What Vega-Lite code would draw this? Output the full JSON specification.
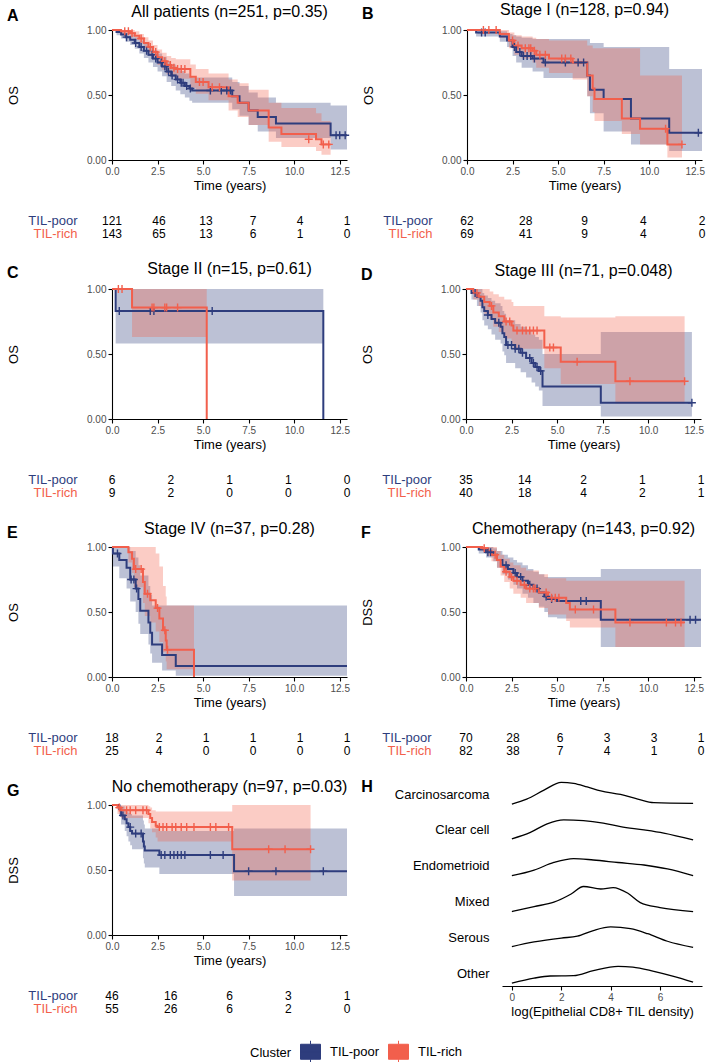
{
  "$schema": "https://vega.github.io/schema/vega-lite/v6.json",
  "padding": {"left": 7, "top": 2, "right": 2, "bottom": 0},
  "config": {
    "font": "Liberation Sans",
    "view": {"stroke": null},
    "axis": {"grid": false, "domainColor": "#000000", "tickColor": "#000000", "labelColor": "#4d4d4d", "labelFontSize": 10, "titleFontSize": 13, "titleFontWeight": "normal", "titleColor": "#000000", "tickSize": 4, "domainWidth": 1.1, "tickWidth": 1.1, "labelFlush": false, "labelOverlap": false},
    "title": {"fontSize": 16, "fontWeight": "normal", "color": "#000000", "offset": 5},
    "legend": {"symbolType": "M-1,-0.75H1V0.75H-1Z M-1,0H1 M0,-1.1V-0.75 M0,0.75V1.1", "symbolSize": 400, "symbolStrokeColor": "#333333", "symbolStrokeWidth": 1, "symbolOpacity": 1, "labelFontSize": 13, "titleFontSize": 13, "titleFontWeight": "normal", "labelColor": "#000000", "titleColor": "#000000"}
  },
  "datasets": {
    "km": [
      {"p":"A","g":"TIL-poor","t":0,"s":1,"lo":1,"hi":1},
      {"p":"A","g":"TIL-poor","t":0.25,"s":0.985,"lo":0.96,"hi":1},
      {"p":"A","g":"TIL-poor","t":0.5,"s":0.965,"lo":0.935,"hi":0.99},
      {"p":"A","g":"TIL-poor","t":0.75,"s":0.945,"lo":0.91,"hi":0.98},
      {"p":"A","g":"TIL-poor","t":1,"s":0.925,"lo":0.885,"hi":0.965},
      {"p":"A","g":"TIL-poor","t":1.25,"s":0.9,"lo":0.855,"hi":0.945},
      {"p":"A","g":"TIL-poor","t":1.5,"s":0.87,"lo":0.82,"hi":0.92},
      {"p":"A","g":"TIL-poor","t":1.75,"s":0.84,"lo":0.785,"hi":0.895},
      {"p":"A","g":"TIL-poor","t":2,"s":0.81,"lo":0.75,"hi":0.87},
      {"p":"A","g":"TIL-poor","t":2.25,"s":0.78,"lo":0.715,"hi":0.845},
      {"p":"A","g":"TIL-poor","t":2.5,"s":0.75,"lo":0.68,"hi":0.82},
      {"p":"A","g":"TIL-poor","t":2.75,"s":0.72,"lo":0.645,"hi":0.795},
      {"p":"A","g":"TIL-poor","t":3,"s":0.68,"lo":0.6,"hi":0.76},
      {"p":"A","g":"TIL-poor","t":3.25,"s":0.65,"lo":0.57,"hi":0.735},
      {"p":"A","g":"TIL-poor","t":3.5,"s":0.62,"lo":0.535,"hi":0.71},
      {"p":"A","g":"TIL-poor","t":3.75,"s":0.595,"lo":0.505,"hi":0.685},
      {"p":"A","g":"TIL-poor","t":4,"s":0.57,"lo":0.48,"hi":0.665},
      {"p":"A","g":"TIL-poor","t":4.25,"s":0.55,"lo":0.455,"hi":0.645},
      {"p":"A","g":"TIL-poor","t":4.4,"s":0.535,"lo":0.44,"hi":0.635},
      {"p":"A","g":"TIL-poor","t":6.6,"s":0.49,"lo":0.39,"hi":0.6},
      {"p":"A","g":"TIL-poor","t":7,"s":0.44,"lo":0.34,"hi":0.57},
      {"p":"A","g":"TIL-poor","t":7.5,"s":0.38,"lo":0.27,"hi":0.52},
      {"p":"A","g":"TIL-poor","t":8,"s":0.33,"lo":0.22,"hi":0.48},
      {"p":"A","g":"TIL-poor","t":9,"s":0.28,"lo":0.17,"hi":0.44},
      {"p":"A","g":"TIL-poor","t":12,"s":0.19,"lo":0.08,"hi":0.42},
      {"p":"A","g":"TIL-poor","t":12.9,"s":0.19,"lo":0.08,"hi":0.42},
      {"p":"A","g":"TIL-rich","t":0,"s":1,"lo":1,"hi":1},
      {"p":"A","g":"TIL-rich","t":0.5,"s":0.99,"lo":0.97,"hi":1},
      {"p":"A","g":"TIL-rich","t":1,"s":0.975,"lo":0.95,"hi":1},
      {"p":"A","g":"TIL-rich","t":1.25,"s":0.955,"lo":0.925,"hi":0.99},
      {"p":"A","g":"TIL-rich","t":1.5,"s":0.935,"lo":0.9,"hi":0.97},
      {"p":"A","g":"TIL-rich","t":1.75,"s":0.9,"lo":0.86,"hi":0.945},
      {"p":"A","g":"TIL-rich","t":2,"s":0.87,"lo":0.82,"hi":0.92},
      {"p":"A","g":"TIL-rich","t":2.25,"s":0.83,"lo":0.775,"hi":0.885},
      {"p":"A","g":"TIL-rich","t":2.5,"s":0.79,"lo":0.73,"hi":0.85},
      {"p":"A","g":"TIL-rich","t":2.75,"s":0.76,"lo":0.695,"hi":0.825},
      {"p":"A","g":"TIL-rich","t":3,"s":0.73,"lo":0.66,"hi":0.8},
      {"p":"A","g":"TIL-rich","t":3.25,"s":0.71,"lo":0.64,"hi":0.785},
      {"p":"A","g":"TIL-rich","t":3.5,"s":0.7,"lo":0.625,"hi":0.775},
      {"p":"A","g":"TIL-rich","t":4.3,"s":0.64,"lo":0.555,"hi":0.735},
      {"p":"A","g":"TIL-rich","t":4.6,"s":0.6,"lo":0.51,"hi":0.7},
      {"p":"A","g":"TIL-rich","t":5.3,"s":0.56,"lo":0.46,"hi":0.665},
      {"p":"A","g":"TIL-rich","t":6.4,"s":0.49,"lo":0.38,"hi":0.62},
      {"p":"A","g":"TIL-rich","t":6.9,"s":0.44,"lo":0.33,"hi":0.59},
      {"p":"A","g":"TIL-rich","t":7.5,"s":0.38,"lo":0.27,"hi":0.54},
      {"p":"A","g":"TIL-rich","t":8.6,"s":0.25,"lo":0.14,"hi":0.44},
      {"p":"A","g":"TIL-rich","t":9.3,"s":0.2,"lo":0.1,"hi":0.4},
      {"p":"A","g":"TIL-rich","t":11.2,"s":0.16,"lo":0.07,"hi":0.36},
      {"p":"A","g":"TIL-rich","t":11.5,"s":0.12,"lo":0.04,"hi":0.3},
      {"p":"A","g":"TIL-rich","t":12,"s":0.12,"lo":0.04,"hi":0.3},
      {"p":"B","g":"TIL-poor","t":0,"s":1,"lo":1,"hi":1},
      {"p":"B","g":"TIL-poor","t":0.5,"s":0.98,"lo":0.95,"hi":1},
      {"p":"B","g":"TIL-poor","t":1.8,"s":0.95,"lo":0.91,"hi":0.99},
      {"p":"B","g":"TIL-poor","t":2.2,"s":0.92,"lo":0.87,"hi":0.97},
      {"p":"B","g":"TIL-poor","t":2.5,"s":0.87,"lo":0.8,"hi":0.96},
      {"p":"B","g":"TIL-poor","t":2.7,"s":0.83,"lo":0.75,"hi":0.95},
      {"p":"B","g":"TIL-poor","t":3,"s":0.8,"lo":0.71,"hi":0.94},
      {"p":"B","g":"TIL-poor","t":3.6,"s":0.78,"lo":0.68,"hi":0.93},
      {"p":"B","g":"TIL-poor","t":4.2,"s":0.75,"lo":0.63,"hi":0.93},
      {"p":"B","g":"TIL-poor","t":6.6,"s":0.65,"lo":0.49,"hi":0.93},
      {"p":"B","g":"TIL-poor","t":6.75,"s":0.54,"lo":0.36,"hi":0.9},
      {"p":"B","g":"TIL-poor","t":7.5,"s":0.47,"lo":0.22,"hi":0.87},
      {"p":"B","g":"TIL-poor","t":9,"s":0.32,"lo":0.12,"hi":0.87},
      {"p":"B","g":"TIL-poor","t":11.1,"s":0.21,"lo":0.07,"hi":0.7},
      {"p":"B","g":"TIL-poor","t":12.9,"s":0.21,"lo":0.07,"hi":0.7},
      {"p":"B","g":"TIL-rich","t":0,"s":1,"lo":1,"hi":1},
      {"p":"B","g":"TIL-rich","t":1.8,"s":0.97,"lo":0.94,"hi":1},
      {"p":"B","g":"TIL-rich","t":2.3,"s":0.92,"lo":0.86,"hi":0.98},
      {"p":"B","g":"TIL-rich","t":2.6,"s":0.88,"lo":0.81,"hi":0.96},
      {"p":"B","g":"TIL-rich","t":3,"s":0.86,"lo":0.78,"hi":0.95},
      {"p":"B","g":"TIL-rich","t":3.6,"s":0.84,"lo":0.75,"hi":0.94},
      {"p":"B","g":"TIL-rich","t":3.8,"s":0.81,"lo":0.71,"hi":0.93},
      {"p":"B","g":"TIL-rich","t":4.5,"s":0.78,"lo":0.67,"hi":0.92},
      {"p":"B","g":"TIL-rich","t":5.8,"s":0.75,"lo":0.62,"hi":0.92},
      {"p":"B","g":"TIL-rich","t":6.6,"s":0.65,"lo":0.49,"hi":0.88},
      {"p":"B","g":"TIL-rich","t":6.9,"s":0.55,"lo":0.37,"hi":0.86},
      {"p":"B","g":"TIL-rich","t":7,"s":0.47,"lo":0.3,"hi":0.86},
      {"p":"B","g":"TIL-rich","t":8.5,"s":0.32,"lo":0.2,"hi":0.86},
      {"p":"B","g":"TIL-rich","t":9.5,"s":0.24,"lo":0.12,"hi":0.65},
      {"p":"B","g":"TIL-rich","t":11,"s":0.12,"lo":0.02,"hi":0.65},
      {"p":"B","g":"TIL-rich","t":11.8,"s":0.12,"lo":0.02,"hi":0.65},
      {"p":"C","g":"TIL-poor","t":0,"s":1,"lo":1,"hi":1},
      {"p":"C","g":"TIL-poor","t":0.2,"s":0.83,"lo":0.58,"hi":1},
      {"p":"C","g":"TIL-poor","t":11.6,"s":0,"lo":0,"hi":0},
      {"p":"C","g":"TIL-rich","t":0,"s":1,"lo":1,"hi":1},
      {"p":"C","g":"TIL-rich","t":1.1,"s":0.857,"lo":0.63,"hi":1},
      {"p":"C","g":"TIL-rich","t":5.2,"s":0,"lo":0,"hi":0},
      {"p":"D","g":"TIL-poor","t":0,"s":1,"lo":1,"hi":1},
      {"p":"D","g":"TIL-poor","t":0.3,"s":0.97,"lo":0.92,"hi":1},
      {"p":"D","g":"TIL-poor","t":0.6,"s":0.94,"lo":0.87,"hi":1},
      {"p":"D","g":"TIL-poor","t":0.8,"s":0.91,"lo":0.82,"hi":1},
      {"p":"D","g":"TIL-poor","t":0.9,"s":0.86,"lo":0.76,"hi":0.97},
      {"p":"D","g":"TIL-poor","t":1,"s":0.83,"lo":0.72,"hi":0.95},
      {"p":"D","g":"TIL-poor","t":1.2,"s":0.8,"lo":0.69,"hi":0.93},
      {"p":"D","g":"TIL-poor","t":1.4,"s":0.77,"lo":0.65,"hi":0.91},
      {"p":"D","g":"TIL-poor","t":1.6,"s":0.74,"lo":0.61,"hi":0.89},
      {"p":"D","g":"TIL-poor","t":1.9,"s":0.71,"lo":0.58,"hi":0.87},
      {"p":"D","g":"TIL-poor","t":2,"s":0.66,"lo":0.52,"hi":0.83},
      {"p":"D","g":"TIL-poor","t":2.1,"s":0.63,"lo":0.49,"hi":0.81},
      {"p":"D","g":"TIL-poor","t":2.2,"s":0.57,"lo":0.43,"hi":0.76},
      {"p":"D","g":"TIL-poor","t":2.7,"s":0.54,"lo":0.39,"hi":0.73},
      {"p":"D","g":"TIL-poor","t":3,"s":0.51,"lo":0.36,"hi":0.71},
      {"p":"D","g":"TIL-poor","t":3.3,"s":0.47,"lo":0.32,"hi":0.68},
      {"p":"D","g":"TIL-poor","t":3.6,"s":0.43,"lo":0.28,"hi":0.65},
      {"p":"D","g":"TIL-poor","t":3.8,"s":0.4,"lo":0.25,"hi":0.63},
      {"p":"D","g":"TIL-poor","t":4,"s":0.37,"lo":0.22,"hi":0.61},
      {"p":"D","g":"TIL-poor","t":4.2,"s":0.25,"lo":0.1,"hi":0.5},
      {"p":"D","g":"TIL-poor","t":7.4,"s":0.125,"lo":0.02,"hi":0.67},
      {"p":"D","g":"TIL-poor","t":12.4,"s":0.125,"lo":0.02,"hi":0.67},
      {"p":"D","g":"TIL-rich","t":0,"s":1,"lo":1,"hi":1},
      {"p":"D","g":"TIL-rich","t":0.4,"s":0.97,"lo":0.92,"hi":1},
      {"p":"D","g":"TIL-rich","t":0.7,"s":0.94,"lo":0.87,"hi":1},
      {"p":"D","g":"TIL-rich","t":1,"s":0.9,"lo":0.81,"hi":1},
      {"p":"D","g":"TIL-rich","t":1.3,"s":0.87,"lo":0.77,"hi":0.98},
      {"p":"D","g":"TIL-rich","t":1.5,"s":0.82,"lo":0.71,"hi":0.96},
      {"p":"D","g":"TIL-rich","t":1.8,"s":0.79,"lo":0.67,"hi":0.94},
      {"p":"D","g":"TIL-rich","t":2.1,"s":0.75,"lo":0.62,"hi":0.92},
      {"p":"D","g":"TIL-rich","t":2.5,"s":0.72,"lo":0.58,"hi":0.9},
      {"p":"D","g":"TIL-rich","t":2.6,"s":0.68,"lo":0.54,"hi":0.87},
      {"p":"D","g":"TIL-rich","t":4.3,"s":0.55,"lo":0.39,"hi":0.79},
      {"p":"D","g":"TIL-rich","t":5.2,"s":0.44,"lo":0.27,"hi":0.78},
      {"p":"D","g":"TIL-rich","t":8.2,"s":0.29,"lo":0.12,"hi":0.79},
      {"p":"D","g":"TIL-rich","t":12,"s":0.29,"lo":0.12,"hi":0.79},
      {"p":"E","g":"TIL-poor","t":0,"s":1,"lo":1,"hi":1},
      {"p":"E","g":"TIL-poor","t":0.05,"s":0.95,"lo":0.85,"hi":1},
      {"p":"E","g":"TIL-poor","t":0.4,"s":0.9,"lo":0.76,"hi":1},
      {"p":"E","g":"TIL-poor","t":0.8,"s":0.84,"lo":0.68,"hi":1},
      {"p":"E","g":"TIL-poor","t":1,"s":0.75,"lo":0.58,"hi":0.97},
      {"p":"E","g":"TIL-poor","t":1.3,"s":0.68,"lo":0.5,"hi":0.92},
      {"p":"E","g":"TIL-poor","t":1.45,"s":0.6,"lo":0.41,"hi":0.86},
      {"p":"E","g":"TIL-poor","t":1.55,"s":0.51,"lo":0.33,"hi":0.78},
      {"p":"E","g":"TIL-poor","t":2,"s":0.42,"lo":0.25,"hi":0.7},
      {"p":"E","g":"TIL-poor","t":2.1,"s":0.34,"lo":0.18,"hi":0.63},
      {"p":"E","g":"TIL-poor","t":2.2,"s":0.25,"lo":0.11,"hi":0.55},
      {"p":"E","g":"TIL-poor","t":2.75,"s":0.17,"lo":0.05,"hi":0.55},
      {"p":"E","g":"TIL-poor","t":3.5,"s":0.085,"lo":0.01,"hi":0.55},
      {"p":"E","g":"TIL-poor","t":12.9,"s":0.085,"lo":0.01,"hi":0.55},
      {"p":"E","g":"TIL-rich","t":0,"s":1,"lo":1,"hi":1},
      {"p":"E","g":"TIL-rich","t":0.9,"s":0.96,"lo":0.88,"hi":1},
      {"p":"E","g":"TIL-rich","t":1.1,"s":0.91,"lo":0.8,"hi":1},
      {"p":"E","g":"TIL-rich","t":1.2,"s":0.83,"lo":0.69,"hi":1},
      {"p":"E","g":"TIL-rich","t":1.7,"s":0.73,"lo":0.57,"hi":1},
      {"p":"E","g":"TIL-rich","t":1.8,"s":0.64,"lo":0.47,"hi":1},
      {"p":"E","g":"TIL-rich","t":2.1,"s":0.59,"lo":0.42,"hi":1},
      {"p":"E","g":"TIL-rich","t":2.4,"s":0.53,"lo":0.35,"hi":0.95},
      {"p":"E","g":"TIL-rich","t":2.6,"s":0.45,"lo":0.27,"hi":0.85},
      {"p":"E","g":"TIL-rich","t":2.8,"s":0.36,"lo":0.19,"hi":0.7},
      {"p":"E","g":"TIL-rich","t":2.95,"s":0.28,"lo":0.12,"hi":0.62},
      {"p":"E","g":"TIL-rich","t":3,"s":0.21,"lo":0.06,"hi":0.55},
      {"p":"E","g":"TIL-rich","t":4.5,"s":0,"lo":0,"hi":0},
      {"p":"F","g":"TIL-poor","t":0,"s":1,"lo":1,"hi":1},
      {"p":"F","g":"TIL-poor","t":0.7,"s":0.98,"lo":0.95,"hi":1},
      {"p":"F","g":"TIL-poor","t":1.1,"s":0.96,"lo":0.92,"hi":1},
      {"p":"F","g":"TIL-poor","t":1.5,"s":0.94,"lo":0.89,"hi":0.99},
      {"p":"F","g":"TIL-poor","t":1.7,"s":0.9,"lo":0.84,"hi":0.97},
      {"p":"F","g":"TIL-poor","t":2,"s":0.86,"lo":0.79,"hi":0.94},
      {"p":"F","g":"TIL-poor","t":2.3,"s":0.83,"lo":0.75,"hi":0.92},
      {"p":"F","g":"TIL-poor","t":2.6,"s":0.8,"lo":0.71,"hi":0.9},
      {"p":"F","g":"TIL-poor","t":2.8,"s":0.77,"lo":0.68,"hi":0.88},
      {"p":"F","g":"TIL-poor","t":3.1,"s":0.74,"lo":0.64,"hi":0.86},
      {"p":"F","g":"TIL-poor","t":3.4,"s":0.71,"lo":0.61,"hi":0.83},
      {"p":"F","g":"TIL-poor","t":3.7,"s":0.68,"lo":0.57,"hi":0.81},
      {"p":"F","g":"TIL-poor","t":4,"s":0.65,"lo":0.54,"hi":0.79},
      {"p":"F","g":"TIL-poor","t":4.3,"s":0.62,"lo":0.5,"hi":0.77},
      {"p":"F","g":"TIL-poor","t":4.5,"s":0.6,"lo":0.46,"hi":0.77},
      {"p":"F","g":"TIL-poor","t":5,"s":0.585,"lo":0.45,"hi":0.77},
      {"p":"F","g":"TIL-poor","t":7.4,"s":0.44,"lo":0.23,"hi":0.83},
      {"p":"F","g":"TIL-poor","t":12.9,"s":0.44,"lo":0.23,"hi":0.83},
      {"p":"F","g":"TIL-rich","t":0,"s":1,"lo":1,"hi":1},
      {"p":"F","g":"TIL-rich","t":0.9,"s":0.99,"lo":0.97,"hi":1},
      {"p":"F","g":"TIL-rich","t":1.2,"s":0.97,"lo":0.93,"hi":1},
      {"p":"F","g":"TIL-rich","t":1.4,"s":0.94,"lo":0.89,"hi":1},
      {"p":"F","g":"TIL-rich","t":1.7,"s":0.9,"lo":0.84,"hi":0.97},
      {"p":"F","g":"TIL-rich","t":1.9,"s":0.85,"lo":0.78,"hi":0.94},
      {"p":"F","g":"TIL-rich","t":2.1,"s":0.81,"lo":0.73,"hi":0.91},
      {"p":"F","g":"TIL-rich","t":2.4,"s":0.77,"lo":0.68,"hi":0.88},
      {"p":"F","g":"TIL-rich","t":2.6,"s":0.74,"lo":0.64,"hi":0.86},
      {"p":"F","g":"TIL-rich","t":3,"s":0.71,"lo":0.61,"hi":0.84},
      {"p":"F","g":"TIL-rich","t":3.3,"s":0.68,"lo":0.57,"hi":0.82},
      {"p":"F","g":"TIL-rich","t":4,"s":0.65,"lo":0.53,"hi":0.79},
      {"p":"F","g":"TIL-rich","t":4.5,"s":0.61,"lo":0.48,"hi":0.76},
      {"p":"F","g":"TIL-rich","t":5.5,"s":0.57,"lo":0.43,"hi":0.74},
      {"p":"F","g":"TIL-rich","t":5.7,"s":0.52,"lo":0.38,"hi":0.74},
      {"p":"F","g":"TIL-rich","t":8.2,"s":0.42,"lo":0.23,"hi":0.74},
      {"p":"F","g":"TIL-rich","t":12,"s":0.42,"lo":0.23,"hi":0.74},
      {"p":"G","g":"TIL-poor","t":0,"s":1,"lo":1,"hi":1},
      {"p":"G","g":"TIL-poor","t":0.4,"s":0.97,"lo":0.91,"hi":1},
      {"p":"G","g":"TIL-poor","t":0.5,"s":0.92,"lo":0.85,"hi":0.99},
      {"p":"G","g":"TIL-poor","t":0.7,"s":0.89,"lo":0.8,"hi":0.97},
      {"p":"G","g":"TIL-poor","t":0.8,"s":0.86,"lo":0.76,"hi":0.95},
      {"p":"G","g":"TIL-poor","t":0.9,"s":0.83,"lo":0.72,"hi":0.94},
      {"p":"G","g":"TIL-poor","t":1,"s":0.8,"lo":0.69,"hi":0.93},
      {"p":"G","g":"TIL-poor","t":1.1,"s":0.78,"lo":0.66,"hi":0.92},
      {"p":"G","g":"TIL-poor","t":1.7,"s":0.72,"lo":0.59,"hi":0.88},
      {"p":"G","g":"TIL-poor","t":1.75,"s":0.68,"lo":0.55,"hi":0.85},
      {"p":"G","g":"TIL-poor","t":1.8,"s":0.65,"lo":0.52,"hi":0.82},
      {"p":"G","g":"TIL-poor","t":2.6,"s":0.615,"lo":0.47,"hi":0.8},
      {"p":"G","g":"TIL-poor","t":6.7,"s":0.49,"lo":0.3,"hi":0.82},
      {"p":"G","g":"TIL-poor","t":12.9,"s":0.49,"lo":0.3,"hi":0.82},
      {"p":"G","g":"TIL-rich","t":0,"s":1,"lo":1,"hi":1},
      {"p":"G","g":"TIL-rich","t":0.3,"s":0.98,"lo":0.93,"hi":1},
      {"p":"G","g":"TIL-rich","t":0.5,"s":0.96,"lo":0.9,"hi":1},
      {"p":"G","g":"TIL-rich","t":2,"s":0.93,"lo":0.86,"hi":0.99},
      {"p":"G","g":"TIL-rich","t":2.1,"s":0.9,"lo":0.82,"hi":0.98},
      {"p":"G","g":"TIL-rich","t":2.2,"s":0.87,"lo":0.79,"hi":0.96},
      {"p":"G","g":"TIL-rich","t":2.4,"s":0.84,"lo":0.75,"hi":0.95},
      {"p":"G","g":"TIL-rich","t":2.5,"s":0.83,"lo":0.72,"hi":0.95},
      {"p":"G","g":"TIL-rich","t":6.6,"s":0.66,"lo":0.42,"hi":1},
      {"p":"G","g":"TIL-rich","t":10.9,"s":0.66,"lo":0.42,"hi":1}
    ],
    "cens": [
      {"p":"A","g":"TIL-poor","t":0.8,"s":0.945},{"p":"A","g":"TIL-poor","t":1.3,"s":0.9},{"p":"A","g":"TIL-poor","t":1.6,"s":0.87},{"p":"A","g":"TIL-poor","t":1.9,"s":0.84},{"p":"A","g":"TIL-poor","t":2.2,"s":0.81},{"p":"A","g":"TIL-poor","t":2.4,"s":0.78},{"p":"A","g":"TIL-poor","t":2.7,"s":0.75},{"p":"A","g":"TIL-poor","t":2.9,"s":0.72},{"p":"A","g":"TIL-poor","t":3.1,"s":0.68},{"p":"A","g":"TIL-poor","t":3.3,"s":0.65},{"p":"A","g":"TIL-poor","t":3.6,"s":0.62},{"p":"A","g":"TIL-poor","t":3.8,"s":0.595},{"p":"A","g":"TIL-poor","t":3.9,"s":0.595},{"p":"A","g":"TIL-poor","t":4.1,"s":0.57},{"p":"A","g":"TIL-poor","t":4.3,"s":0.55},{"p":"A","g":"TIL-poor","t":5.4,"s":0.535},{"p":"A","g":"TIL-poor","t":6,"s":0.535},{"p":"A","g":"TIL-poor","t":6.3,"s":0.535},{"p":"A","g":"TIL-poor","t":6.5,"s":0.535},{"p":"A","g":"TIL-poor","t":12.3,"s":0.19},{"p":"A","g":"TIL-poor","t":12.5,"s":0.19},{"p":"A","g":"TIL-poor","t":12.8,"s":0.19},
      {"p":"A","g":"TIL-rich","t":0.7,"s":0.99},{"p":"A","g":"TIL-rich","t":0.9,"s":0.99},{"p":"A","g":"TIL-rich","t":1.1,"s":0.975},{"p":"A","g":"TIL-rich","t":1.6,"s":0.935},{"p":"A","g":"TIL-rich","t":2.1,"s":0.87},{"p":"A","g":"TIL-rich","t":2.4,"s":0.83},{"p":"A","g":"TIL-rich","t":2.9,"s":0.76},{"p":"A","g":"TIL-rich","t":3.2,"s":0.73},{"p":"A","g":"TIL-rich","t":3.4,"s":0.71},{"p":"A","g":"TIL-rich","t":3.6,"s":0.7},{"p":"A","g":"TIL-rich","t":3.8,"s":0.7},{"p":"A","g":"TIL-rich","t":4,"s":0.7},{"p":"A","g":"TIL-rich","t":4.8,"s":0.6},{"p":"A","g":"TIL-rich","t":5,"s":0.6},{"p":"A","g":"TIL-rich","t":5.5,"s":0.56},{"p":"A","g":"TIL-rich","t":5.9,"s":0.56},{"p":"A","g":"TIL-rich","t":10.8,"s":0.16},{"p":"A","g":"TIL-rich","t":11.6,"s":0.12},{"p":"A","g":"TIL-rich","t":11.9,"s":0.12},
      {"p":"B","g":"TIL-poor","t":0.8,"s":0.98},{"p":"B","g":"TIL-poor","t":1,"s":0.98},{"p":"B","g":"TIL-poor","t":2.6,"s":0.87},{"p":"B","g":"TIL-poor","t":2.9,"s":0.83},{"p":"B","g":"TIL-poor","t":3.1,"s":0.8},{"p":"B","g":"TIL-poor","t":3.3,"s":0.8},{"p":"B","g":"TIL-poor","t":3.5,"s":0.8},{"p":"B","g":"TIL-poor","t":3.7,"s":0.78},{"p":"B","g":"TIL-poor","t":4.3,"s":0.75},{"p":"B","g":"TIL-poor","t":5.4,"s":0.75},{"p":"B","g":"TIL-poor","t":6.1,"s":0.75},{"p":"B","g":"TIL-poor","t":6.4,"s":0.75},{"p":"B","g":"TIL-poor","t":12.7,"s":0.21},
      {"p":"B","g":"TIL-rich","t":0.9,"s":1},{"p":"B","g":"TIL-rich","t":1.2,"s":1},{"p":"B","g":"TIL-rich","t":1.6,"s":1},{"p":"B","g":"TIL-rich","t":2.5,"s":0.92},{"p":"B","g":"TIL-rich","t":2.8,"s":0.88},{"p":"B","g":"TIL-rich","t":3.2,"s":0.86},{"p":"B","g":"TIL-rich","t":3.4,"s":0.86},{"p":"B","g":"TIL-rich","t":3.5,"s":0.86},{"p":"B","g":"TIL-rich","t":3.7,"s":0.84},{"p":"B","g":"TIL-rich","t":4,"s":0.81},{"p":"B","g":"TIL-rich","t":4.3,"s":0.81},{"p":"B","g":"TIL-rich","t":5.2,"s":0.78},{"p":"B","g":"TIL-rich","t":5.4,"s":0.78},{"p":"B","g":"TIL-rich","t":5.7,"s":0.78},{"p":"B","g":"TIL-rich","t":10.9,"s":0.24},{"p":"B","g":"TIL-rich","t":11.8,"s":0.12},
      {"p":"C","g":"TIL-poor","t":0.4,"s":0.83},{"p":"C","g":"TIL-poor","t":2.1,"s":0.83},{"p":"C","g":"TIL-poor","t":2.3,"s":0.83},{"p":"C","g":"TIL-poor","t":5.5,"s":0.83},
      {"p":"C","g":"TIL-rich","t":0.35,"s":1},{"p":"C","g":"TIL-rich","t":0.55,"s":1},{"p":"C","g":"TIL-rich","t":2.2,"s":0.857},{"p":"C","g":"TIL-rich","t":2.3,"s":0.857},{"p":"C","g":"TIL-rich","t":2.9,"s":0.857},{"p":"C","g":"TIL-rich","t":3,"s":0.857},{"p":"C","g":"TIL-rich","t":3.6,"s":0.857},
      {"p":"D","g":"TIL-poor","t":0.5,"s":0.97},{"p":"D","g":"TIL-poor","t":1.2,"s":0.8},{"p":"D","g":"TIL-poor","t":1.8,"s":0.74},{"p":"D","g":"TIL-poor","t":2.3,"s":0.57},{"p":"D","g":"TIL-poor","t":2.5,"s":0.57},{"p":"D","g":"TIL-poor","t":2.7,"s":0.54},{"p":"D","g":"TIL-poor","t":2.9,"s":0.54},{"p":"D","g":"TIL-poor","t":3.1,"s":0.51},{"p":"D","g":"TIL-poor","t":3.5,"s":0.47},{"p":"D","g":"TIL-poor","t":3.7,"s":0.43},{"p":"D","g":"TIL-poor","t":3.9,"s":0.4},{"p":"D","g":"TIL-poor","t":4.1,"s":0.37},{"p":"D","g":"TIL-poor","t":12.4,"s":0.125},
      {"p":"D","g":"TIL-rich","t":0.6,"s":0.97},{"p":"D","g":"TIL-rich","t":1.4,"s":0.87},{"p":"D","g":"TIL-rich","t":2.2,"s":0.75},{"p":"D","g":"TIL-rich","t":2.4,"s":0.75},{"p":"D","g":"TIL-rich","t":2.8,"s":0.68},{"p":"D","g":"TIL-rich","t":3.1,"s":0.68},{"p":"D","g":"TIL-rich","t":3.3,"s":0.68},{"p":"D","g":"TIL-rich","t":3.5,"s":0.68},{"p":"D","g":"TIL-rich","t":3.7,"s":0.68},{"p":"D","g":"TIL-rich","t":3.9,"s":0.68},{"p":"D","g":"TIL-rich","t":4.6,"s":0.55},{"p":"D","g":"TIL-rich","t":4.8,"s":0.55},{"p":"D","g":"TIL-rich","t":6.1,"s":0.44},{"p":"D","g":"TIL-rich","t":9,"s":0.29},{"p":"D","g":"TIL-rich","t":12,"s":0.29},
      {"p":"E","g":"TIL-poor","t":0.3,"s":0.95},{"p":"E","g":"TIL-poor","t":1.05,"s":0.75},{"p":"E","g":"TIL-poor","t":1.2,"s":0.75},{"p":"E","g":"TIL-poor","t":1.35,"s":0.68},
      {"p":"E","g":"TIL-rich","t":1.3,"s":0.83},{"p":"E","g":"TIL-rich","t":1.6,"s":0.83},{"p":"E","g":"TIL-rich","t":1.95,"s":0.64},{"p":"E","g":"TIL-rich","t":2.5,"s":0.53},{"p":"E","g":"TIL-rich","t":2.9,"s":0.36},{"p":"E","g":"TIL-rich","t":3.05,"s":0.21},
      {"p":"F","g":"TIL-poor","t":1.2,"s":0.96},{"p":"F","g":"TIL-poor","t":1.35,"s":0.96},{"p":"F","g":"TIL-poor","t":2.2,"s":0.86},{"p":"F","g":"TIL-poor","t":2.7,"s":0.8},{"p":"F","g":"TIL-poor","t":3,"s":0.77},{"p":"F","g":"TIL-poor","t":3.5,"s":0.71},{"p":"F","g":"TIL-poor","t":3.9,"s":0.68},{"p":"F","g":"TIL-poor","t":4.4,"s":0.62},{"p":"F","g":"TIL-poor","t":4.7,"s":0.6},{"p":"F","g":"TIL-poor","t":6.3,"s":0.585},{"p":"F","g":"TIL-poor","t":6.6,"s":0.585},{"p":"F","g":"TIL-poor","t":12.3,"s":0.44},{"p":"F","g":"TIL-poor","t":12.6,"s":0.44},
      {"p":"F","g":"TIL-rich","t":1,"s":0.99},{"p":"F","g":"TIL-rich","t":1.6,"s":0.94},{"p":"F","g":"TIL-rich","t":2.2,"s":0.81},{"p":"F","g":"TIL-rich","t":2.5,"s":0.77},{"p":"F","g":"TIL-rich","t":2.8,"s":0.74},{"p":"F","g":"TIL-rich","t":3.2,"s":0.71},{"p":"F","g":"TIL-rich","t":3.5,"s":0.68},{"p":"F","g":"TIL-rich","t":3.7,"s":0.68},{"p":"F","g":"TIL-rich","t":3.8,"s":0.68},{"p":"F","g":"TIL-rich","t":4.4,"s":0.65},{"p":"F","g":"TIL-rich","t":4.7,"s":0.61},{"p":"F","g":"TIL-rich","t":4.9,"s":0.61},{"p":"F","g":"TIL-rich","t":5.1,"s":0.61},{"p":"F","g":"TIL-rich","t":6,"s":0.52},{"p":"F","g":"TIL-rich","t":7,"s":0.52},{"p":"F","g":"TIL-rich","t":9,"s":0.42},{"p":"F","g":"TIL-rich","t":11,"s":0.42},{"p":"F","g":"TIL-rich","t":11.5,"s":0.42},{"p":"F","g":"TIL-rich","t":11.8,"s":0.42},
      {"p":"G","g":"TIL-poor","t":0.6,"s":0.92},{"p":"G","g":"TIL-poor","t":1,"s":0.83},{"p":"G","g":"TIL-poor","t":1.3,"s":0.78},{"p":"G","g":"TIL-poor","t":1.6,"s":0.78},{"p":"G","g":"TIL-poor","t":2.7,"s":0.615},{"p":"G","g":"TIL-poor","t":2.9,"s":0.615},{"p":"G","g":"TIL-poor","t":3.2,"s":0.615},{"p":"G","g":"TIL-poor","t":3.4,"s":0.615},{"p":"G","g":"TIL-poor","t":3.6,"s":0.615},{"p":"G","g":"TIL-poor","t":3.8,"s":0.615},{"p":"G","g":"TIL-poor","t":4,"s":0.615},{"p":"G","g":"TIL-poor","t":5.4,"s":0.615},{"p":"G","g":"TIL-poor","t":6.1,"s":0.615},{"p":"G","g":"TIL-poor","t":7.5,"s":0.49},{"p":"G","g":"TIL-poor","t":9,"s":0.49},{"p":"G","g":"TIL-poor","t":11.6,"s":0.49},
      {"p":"G","g":"TIL-rich","t":0.4,"s":0.98},{"p":"G","g":"TIL-rich","t":0.8,"s":0.96},{"p":"G","g":"TIL-rich","t":1,"s":0.96},{"p":"G","g":"TIL-rich","t":1.3,"s":0.96},{"p":"G","g":"TIL-rich","t":1.7,"s":0.96},{"p":"G","g":"TIL-rich","t":1.9,"s":0.96},{"p":"G","g":"TIL-rich","t":2.6,"s":0.83},{"p":"G","g":"TIL-rich","t":2.8,"s":0.83},{"p":"G","g":"TIL-rich","t":3,"s":0.83},{"p":"G","g":"TIL-rich","t":3.3,"s":0.83},{"p":"G","g":"TIL-rich","t":3.5,"s":0.83},{"p":"G","g":"TIL-rich","t":3.8,"s":0.83},{"p":"G","g":"TIL-rich","t":4.1,"s":0.83},{"p":"G","g":"TIL-rich","t":4.5,"s":0.83},{"p":"G","g":"TIL-rich","t":5.4,"s":0.83},{"p":"G","g":"TIL-rich","t":5.7,"s":0.83},{"p":"G","g":"TIL-rich","t":6.4,"s":0.83},{"p":"G","g":"TIL-rich","t":8.6,"s":0.66},{"p":"G","g":"TIL-rich","t":9.5,"s":0.66},{"p":"G","g":"TIL-rich","t":10.9,"s":0.66}
    ],
    "risk": [
      {"p":"A","g":"TIL-poor","c":0,"n":121},{"p":"A","g":"TIL-poor","c":1,"n":46},{"p":"A","g":"TIL-poor","c":2,"n":13},{"p":"A","g":"TIL-poor","c":3,"n":7},{"p":"A","g":"TIL-poor","c":4,"n":4},{"p":"A","g":"TIL-poor","c":5,"n":1},
      {"p":"A","g":"TIL-rich","c":0,"n":143},{"p":"A","g":"TIL-rich","c":1,"n":65},{"p":"A","g":"TIL-rich","c":2,"n":13},{"p":"A","g":"TIL-rich","c":3,"n":6},{"p":"A","g":"TIL-rich","c":4,"n":1},{"p":"A","g":"TIL-rich","c":5,"n":0},
      {"p":"B","g":"TIL-poor","c":0,"n":62},{"p":"B","g":"TIL-poor","c":1,"n":28},{"p":"B","g":"TIL-poor","c":2,"n":9},{"p":"B","g":"TIL-poor","c":3,"n":4},{"p":"B","g":"TIL-poor","c":4,"n":2},
      {"p":"B","g":"TIL-rich","c":0,"n":69},{"p":"B","g":"TIL-rich","c":1,"n":41},{"p":"B","g":"TIL-rich","c":2,"n":9},{"p":"B","g":"TIL-rich","c":3,"n":4},{"p":"B","g":"TIL-rich","c":4,"n":0},
      {"p":"C","g":"TIL-poor","c":0,"n":6},{"p":"C","g":"TIL-poor","c":1,"n":2},{"p":"C","g":"TIL-poor","c":2,"n":1},{"p":"C","g":"TIL-poor","c":3,"n":1},{"p":"C","g":"TIL-poor","c":4,"n":0},
      {"p":"C","g":"TIL-rich","c":0,"n":9},{"p":"C","g":"TIL-rich","c":1,"n":2},{"p":"C","g":"TIL-rich","c":2,"n":0},{"p":"C","g":"TIL-rich","c":3,"n":0},{"p":"C","g":"TIL-rich","c":4,"n":0},
      {"p":"D","g":"TIL-poor","c":0,"n":35},{"p":"D","g":"TIL-poor","c":1,"n":14},{"p":"D","g":"TIL-poor","c":2,"n":2},{"p":"D","g":"TIL-poor","c":3,"n":1},{"p":"D","g":"TIL-poor","c":4,"n":1},
      {"p":"D","g":"TIL-rich","c":0,"n":40},{"p":"D","g":"TIL-rich","c":1,"n":18},{"p":"D","g":"TIL-rich","c":2,"n":4},{"p":"D","g":"TIL-rich","c":3,"n":2},{"p":"D","g":"TIL-rich","c":4,"n":1},
      {"p":"E","g":"TIL-poor","c":0,"n":18},{"p":"E","g":"TIL-poor","c":1,"n":2},{"p":"E","g":"TIL-poor","c":2,"n":1},{"p":"E","g":"TIL-poor","c":3,"n":1},{"p":"E","g":"TIL-poor","c":4,"n":1},{"p":"E","g":"TIL-poor","c":5,"n":1},
      {"p":"E","g":"TIL-rich","c":0,"n":25},{"p":"E","g":"TIL-rich","c":1,"n":4},{"p":"E","g":"TIL-rich","c":2,"n":0},{"p":"E","g":"TIL-rich","c":3,"n":0},{"p":"E","g":"TIL-rich","c":4,"n":0},{"p":"E","g":"TIL-rich","c":5,"n":0},
      {"p":"F","g":"TIL-poor","c":0,"n":70},{"p":"F","g":"TIL-poor","c":1,"n":28},{"p":"F","g":"TIL-poor","c":2,"n":6},{"p":"F","g":"TIL-poor","c":3,"n":3},{"p":"F","g":"TIL-poor","c":4,"n":3},{"p":"F","g":"TIL-poor","c":5,"n":1},
      {"p":"F","g":"TIL-rich","c":0,"n":82},{"p":"F","g":"TIL-rich","c":1,"n":38},{"p":"F","g":"TIL-rich","c":2,"n":7},{"p":"F","g":"TIL-rich","c":3,"n":4},{"p":"F","g":"TIL-rich","c":4,"n":1},{"p":"F","g":"TIL-rich","c":5,"n":0},
      {"p":"G","g":"TIL-poor","c":0,"n":46},{"p":"G","g":"TIL-poor","c":1,"n":16},{"p":"G","g":"TIL-poor","c":2,"n":6},{"p":"G","g":"TIL-poor","c":3,"n":3},{"p":"G","g":"TIL-poor","c":4,"n":1},
      {"p":"G","g":"TIL-rich","c":0,"n":55},{"p":"G","g":"TIL-rich","c":1,"n":26},{"p":"G","g":"TIL-rich","c":2,"n":6},{"p":"G","g":"TIL-rich","c":3,"n":2},{"p":"G","g":"TIL-rich","c":4,"n":0}
    ],
    "ridge": [
      {"type":"Carcinosarcoma","x":0,"y":5},{"type":"Carcinosarcoma","x":0.6,"y":5.14},{"type":"Carcinosarcoma","x":1.3,"y":5.39},{"type":"Carcinosarcoma","x":2,"y":5.61},{"type":"Carcinosarcoma","x":2.5,"y":5.58},{"type":"Carcinosarcoma","x":3.05,"y":5.48},{"type":"Carcinosarcoma","x":3.6,"y":5.37},{"type":"Carcinosarcoma","x":4.4,"y":5.27},{"type":"Carcinosarcoma","x":5.1,"y":5.14},{"type":"Carcinosarcoma","x":5.75,"y":5.04},{"type":"Carcinosarcoma","x":7.34,"y":5.02},
      {"type":"Clear cell","x":0,"y":4.03},{"type":"Clear cell","x":0.75,"y":4.21},{"type":"Clear cell","x":1.43,"y":4.45},{"type":"Clear cell","x":2.1,"y":4.56},{"type":"Clear cell","x":2.9,"y":4.54},{"type":"Clear cell","x":3.7,"y":4.47},{"type":"Clear cell","x":4.4,"y":4.37},{"type":"Clear cell","x":5.35,"y":4.28},{"type":"Clear cell","x":6.15,"y":4.19},{"type":"Clear cell","x":7.34,"y":4},
      {"type":"Endometrioid","x":0,"y":3},{"type":"Endometrioid","x":0.9,"y":3.16},{"type":"Endometrioid","x":1.7,"y":3.37},{"type":"Endometrioid","x":2.5,"y":3.48},{"type":"Endometrioid","x":3.3,"y":3.44},{"type":"Endometrioid","x":4.3,"y":3.37},{"type":"Endometrioid","x":5.35,"y":3.3},{"type":"Endometrioid","x":6.3,"y":3.19},{"type":"Endometrioid","x":7.34,"y":3},
      {"type":"Mixed","x":0,"y":2},{"type":"Mixed","x":0.9,"y":2.14},{"type":"Mixed","x":1.7,"y":2.26},{"type":"Mixed","x":2.4,"y":2.49},{"type":"Mixed","x":2.9,"y":2.7},{"type":"Mixed","x":3.6,"y":2.63},{"type":"Mixed","x":4.1,"y":2.67},{"type":"Mixed","x":4.7,"y":2.51},{"type":"Mixed","x":5.2,"y":2.25},{"type":"Mixed","x":6,"y":2.11},{"type":"Mixed","x":7.34,"y":2},
      {"type":"Serous","x":0,"y":1.02},{"type":"Serous","x":0.9,"y":1.15},{"type":"Serous","x":2,"y":1.26},{"type":"Serous","x":2.65,"y":1.31},{"type":"Serous","x":3.3,"y":1.47},{"type":"Serous","x":4,"y":1.57},{"type":"Serous","x":4.8,"y":1.52},{"type":"Serous","x":5.5,"y":1.38},{"type":"Serous","x":6.3,"y":1.17},{"type":"Serous","x":7.34,"y":1},
      {"type":"Other","x":0,"y":0},{"type":"Other","x":0.9,"y":0.14},{"type":"Other","x":1.55,"y":0.2},{"type":"Other","x":2.5,"y":0.21},{"type":"Other","x":3.3,"y":0.35},{"type":"Other","x":4.3,"y":0.47},{"type":"Other","x":4.9,"y":0.45},{"type":"Other","x":5.75,"y":0.33},{"type":"Other","x":6.55,"y":0.19},{"type":"Other","x":7.34,"y":0.03}
    ]
  },
  "spacing": 20,
  "vconcat": [
    {"spacing": 10, "hconcat": [
      {"title": {"text": "A", "anchor": "start", "frame": "bounds", "fontSize": 16, "fontWeight": "bold", "offset": 0, "dy": 20}, "spacing": 22, "vconcat": [
        {"title": "All patients (n=251, p=0.35)", "width": 235, "height": 130, "layer": [
          {"data": {"name": "km"}, "transform": [{"filter": "datum.p == 'A'"}], "mark": {"type": "area", "interpolate": "step-after", "opacity": 0.32},
           "encoding": {"x": {"field": "t", "type": "quantitative", "title": "Time (years)", "scale": {"domain": [0, 12.9], "nice": false, "zero": false}, "axis": {"values": [0, 2.5, 5, 7.5, 10, 12.5], "format": ".1f", "titlePadding": 3, "labelPadding": 2, "titleFontSize": 13, "labelFontSize": 10}},
             "y": {"field": "lo", "type": "quantitative", "title": "OS", "scale": {"domain": [0, 1], "nice": false}, "axis": {"values": [0, 0.25, 0.5, 0.75, 1], "format": ".2f", "titleX": -92, "titleY": 65, "labelPadding": 2, "titleFontSize": 13, "labelFontSize": 10}},
             "y2": {"field": "hi"},
             "color": {"field": "g", "type": "nominal", "scale": {"domain": ["TIL-poor", "TIL-rich"], "range": ["#2E3D7D", "#F25F4C"]},
               "legend": {"title": "Cluster", "orient": "none", "legendX": 138, "legendY": 1011, "direction": "horizontal", "titleOrient": "left", "titlePadding": 8, "columnPadding": 6, "labelOffset": 9, "labelFontSize": 13, "titleFontSize": 13, "symbolOpacity": 1, "symbolStrokeColor": "#333333", "symbolStrokeWidth": 1,
                 "encode": {"symbols": {"update": {"fill": {"scale": "color", "field": "value"}, "stroke": {"value": "#333333"}, "fillOpacity": {"value": 1}, "opacity": {"value": 1}, "strokeOpacity": {"value": 1}}}}}}}},
          {"data": {"name": "km"}, "transform": [{"filter": "datum.p == 'A'"}], "mark": {"type": "line", "interpolate": "step-after", "strokeWidth": 2},
           "encoding": {"x": {"field": "t", "type": "quantitative", "title": "Time (years)"}, "y": {"field": "s", "type": "quantitative", "title": "OS"}, "color": {"field": "g", "type": "nominal"}}},
          {"data": {"name": "cens"}, "transform": [{"filter": "datum.p == 'A'"}], "mark": {"type": "point", "shape": "M-1,0H1M0,-1V1", "size": 64, "strokeWidth": 1.4, "filled": false, "opacity": 1},
           "encoding": {"x": {"field": "t", "type": "quantitative", "title": "Time (years)"}, "y": {"field": "s", "type": "quantitative", "title": "OS"}, "color": {"field": "g", "type": "nominal"}}}
        ]},
        {"width": 235, "height": 26, "data": {"name": "risk"}, "transform": [{"filter": "datum.p == 'A'"}], "mark": {"type": "text", "fontSize": 12, "color": "#000000"},
         "encoding": {"x": {"field": "c", "type": "ordinal", "scale": {"type": "point", "padding": 0}, "axis": null},
           "y": {"field": "g", "type": "nominal", "scale": {"domain": ["TIL-poor", "TIL-rich"], "padding": 0.5}, "axis": {"title": null, "domain": false, "ticks": false, "labelPadding": 35, "labelFontSize": 13, "labelColor": {"condition": {"test": "datum.value == 'TIL-poor'", "value": "#2E3D7D"}, "value": "#F25F4C"}}},
           "text": {"field": "n", "type": "quantitative"}}}
      ]},
      {"title": {"text": "B", "anchor": "start", "frame": "bounds", "fontSize": 16, "fontWeight": "bold", "offset": 0, "dy": 20}, "spacing": 22, "vconcat": [
        {"title": "Stage I (n=128, p=0.94)", "width": 235, "height": 130, "layer": [
          {"data": {"name": "km"}, "transform": [{"filter": "datum.p == 'B'"}], "mark": {"type": "area", "interpolate": "step-after", "opacity": 0.32},
           "encoding": {"x": {"field": "t", "type": "quantitative", "title": "Time (years)", "scale": {"domain": [0, 12.9], "nice": false, "zero": false}, "axis": {"values": [0, 2.5, 5, 7.5, 10, 12.5], "format": ".1f", "titlePadding": 3, "labelPadding": 2, "titleFontSize": 13, "labelFontSize": 10}},
             "y": {"field": "lo", "type": "quantitative", "title": "OS", "scale": {"domain": [0, 1], "nice": false}, "axis": {"values": [0, 0.25, 0.5, 0.75, 1], "format": ".2f", "titleX": -92, "titleY": 65, "labelPadding": 2, "titleFontSize": 13, "labelFontSize": 10}},
             "y2": {"field": "hi"}, "color": {"field": "g", "type": "nominal"}}},
          {"data": {"name": "km"}, "transform": [{"filter": "datum.p == 'B'"}], "mark": {"type": "line", "interpolate": "step-after", "strokeWidth": 2},
           "encoding": {"x": {"field": "t", "type": "quantitative", "title": "Time (years)"}, "y": {"field": "s", "type": "quantitative", "title": "OS"}, "color": {"field": "g", "type": "nominal"}}},
          {"data": {"name": "cens"}, "transform": [{"filter": "datum.p == 'B'"}], "mark": {"type": "point", "shape": "M-1,0H1M0,-1V1", "size": 64, "strokeWidth": 1.4, "filled": false, "opacity": 1},
           "encoding": {"x": {"field": "t", "type": "quantitative", "title": "Time (years)"}, "y": {"field": "s", "type": "quantitative", "title": "OS"}, "color": {"field": "g", "type": "nominal"}}}
        ]},
        {"width": 235, "height": 26, "data": {"name": "risk"}, "transform": [{"filter": "datum.p == 'B'"}], "mark": {"type": "text", "fontSize": 12, "color": "#000000"},
         "encoding": {"x": {"field": "c", "type": "ordinal", "scale": {"type": "point", "padding": 0}, "axis": null},
           "y": {"field": "g", "type": "nominal", "scale": {"domain": ["TIL-poor", "TIL-rich"], "padding": 0.5}, "axis": {"title": null, "domain": false, "ticks": false, "labelPadding": 35, "labelFontSize": 13, "labelColor": {"condition": {"test": "datum.value == 'TIL-poor'", "value": "#2E3D7D"}, "value": "#F25F4C"}}},
           "text": {"field": "n", "type": "quantitative"}}}
      ]}
    ]},
    {"spacing": 10, "hconcat": [
      {"title": {"text": "C", "anchor": "start", "frame": "bounds", "fontSize": 16, "fontWeight": "bold", "offset": 0, "dy": 20}, "spacing": 22, "vconcat": [
        {"title": "Stage II (n=15, p=0.61)", "width": 235, "height": 130, "layer": [
          {"data": {"name": "km"}, "transform": [{"filter": "datum.p == 'C'"}], "mark": {"type": "area", "interpolate": "step-after", "opacity": 0.32},
           "encoding": {"x": {"field": "t", "type": "quantitative", "title": "Time (years)", "scale": {"domain": [0, 12.9], "nice": false, "zero": false}, "axis": {"values": [0, 2.5, 5, 7.5, 10, 12.5], "format": ".1f", "titlePadding": 3, "labelPadding": 2, "titleFontSize": 13, "labelFontSize": 10}},
             "y": {"field": "lo", "type": "quantitative", "title": "OS", "scale": {"domain": [0, 1], "nice": false}, "axis": {"values": [0, 0.25, 0.5, 0.75, 1], "format": ".2f", "titleX": -92, "titleY": 65, "labelPadding": 2, "titleFontSize": 13, "labelFontSize": 10}},
             "y2": {"field": "hi"}, "color": {"field": "g", "type": "nominal"}}},
          {"data": {"name": "km"}, "transform": [{"filter": "datum.p == 'C'"}], "mark": {"type": "line", "interpolate": "step-after", "strokeWidth": 2},
           "encoding": {"x": {"field": "t", "type": "quantitative", "title": "Time (years)"}, "y": {"field": "s", "type": "quantitative", "title": "OS"}, "color": {"field": "g", "type": "nominal"}}},
          {"data": {"name": "cens"}, "transform": [{"filter": "datum.p == 'C'"}], "mark": {"type": "point", "shape": "M-1,0H1M0,-1V1", "size": 64, "strokeWidth": 1.4, "filled": false, "opacity": 1},
           "encoding": {"x": {"field": "t", "type": "quantitative", "title": "Time (years)"}, "y": {"field": "s", "type": "quantitative", "title": "OS"}, "color": {"field": "g", "type": "nominal"}}}
        ]},
        {"width": 235, "height": 26, "data": {"name": "risk"}, "transform": [{"filter": "datum.p == 'C'"}], "mark": {"type": "text", "fontSize": 12, "color": "#000000"},
         "encoding": {"x": {"field": "c", "type": "ordinal", "scale": {"type": "point", "padding": 0}, "axis": null},
           "y": {"field": "g", "type": "nominal", "scale": {"domain": ["TIL-poor", "TIL-rich"], "padding": 0.5}, "axis": {"title": null, "domain": false, "ticks": false, "labelPadding": 35, "labelFontSize": 13, "labelColor": {"condition": {"test": "datum.value == 'TIL-poor'", "value": "#2E3D7D"}, "value": "#F25F4C"}}},
           "text": {"field": "n", "type": "quantitative"}}}
      ]},
      {"title": {"text": "D", "anchor": "start", "frame": "bounds", "fontSize": 16, "fontWeight": "bold", "offset": 0, "dy": 20}, "spacing": 22, "vconcat": [
        {"title": "Stage III (n=71, p=0.048)", "width": 235, "height": 130, "layer": [
          {"data": {"name": "km"}, "transform": [{"filter": "datum.p == 'D'"}], "mark": {"type": "area", "interpolate": "step-after", "opacity": 0.32},
           "encoding": {"x": {"field": "t", "type": "quantitative", "title": "Time (years)", "scale": {"domain": [0, 12.9], "nice": false, "zero": false}, "axis": {"values": [0, 2.5, 5, 7.5, 10, 12.5], "format": ".1f", "titlePadding": 3, "labelPadding": 2, "titleFontSize": 13, "labelFontSize": 10}},
             "y": {"field": "lo", "type": "quantitative", "title": "OS", "scale": {"domain": [0, 1], "nice": false}, "axis": {"values": [0, 0.25, 0.5, 0.75, 1], "format": ".2f", "titleX": -92, "titleY": 65, "labelPadding": 2, "titleFontSize": 13, "labelFontSize": 10}},
             "y2": {"field": "hi"}, "color": {"field": "g", "type": "nominal"}}},
          {"data": {"name": "km"}, "transform": [{"filter": "datum.p == 'D'"}], "mark": {"type": "line", "interpolate": "step-after", "strokeWidth": 2},
           "encoding": {"x": {"field": "t", "type": "quantitative", "title": "Time (years)"}, "y": {"field": "s", "type": "quantitative", "title": "OS"}, "color": {"field": "g", "type": "nominal"}}},
          {"data": {"name": "cens"}, "transform": [{"filter": "datum.p == 'D'"}], "mark": {"type": "point", "shape": "M-1,0H1M0,-1V1", "size": 64, "strokeWidth": 1.4, "filled": false, "opacity": 1},
           "encoding": {"x": {"field": "t", "type": "quantitative", "title": "Time (years)"}, "y": {"field": "s", "type": "quantitative", "title": "OS"}, "color": {"field": "g", "type": "nominal"}}}
        ]},
        {"width": 235, "height": 26, "data": {"name": "risk"}, "transform": [{"filter": "datum.p == 'D'"}], "mark": {"type": "text", "fontSize": 12, "color": "#000000"},
         "encoding": {"x": {"field": "c", "type": "ordinal", "scale": {"type": "point", "padding": 0}, "axis": null},
           "y": {"field": "g", "type": "nominal", "scale": {"domain": ["TIL-poor", "TIL-rich"], "padding": 0.5}, "axis": {"title": null, "domain": false, "ticks": false, "labelPadding": 35, "labelFontSize": 13, "labelColor": {"condition": {"test": "datum.value == 'TIL-poor'", "value": "#2E3D7D"}, "value": "#F25F4C"}}},
           "text": {"field": "n", "type": "quantitative"}}}
      ]}
    ]},
    {"spacing": 10, "hconcat": [
      {"title": {"text": "E", "anchor": "start", "frame": "bounds", "fontSize": 16, "fontWeight": "bold", "offset": 0, "dy": 20}, "spacing": 22, "vconcat": [
        {"title": "Stage IV (n=37, p=0.28)", "width": 235, "height": 130, "layer": [
          {"data": {"name": "km"}, "transform": [{"filter": "datum.p == 'E'"}], "mark": {"type": "area", "interpolate": "step-after", "opacity": 0.32},
           "encoding": {"x": {"field": "t", "type": "quantitative", "title": "Time (years)", "scale": {"domain": [0, 12.9], "nice": false, "zero": false}, "axis": {"values": [0, 2.5, 5, 7.5, 10, 12.5], "format": ".1f", "titlePadding": 3, "labelPadding": 2, "titleFontSize": 13, "labelFontSize": 10}},
             "y": {"field": "lo", "type": "quantitative", "title": "OS", "scale": {"domain": [0, 1], "nice": false}, "axis": {"values": [0, 0.25, 0.5, 0.75, 1], "format": ".2f", "titleX": -92, "titleY": 65, "labelPadding": 2, "titleFontSize": 13, "labelFontSize": 10}},
             "y2": {"field": "hi"}, "color": {"field": "g", "type": "nominal"}}},
          {"data": {"name": "km"}, "transform": [{"filter": "datum.p == 'E'"}], "mark": {"type": "line", "interpolate": "step-after", "strokeWidth": 2},
           "encoding": {"x": {"field": "t", "type": "quantitative", "title": "Time (years)"}, "y": {"field": "s", "type": "quantitative", "title": "OS"}, "color": {"field": "g", "type": "nominal"}}},
          {"data": {"name": "cens"}, "transform": [{"filter": "datum.p == 'E'"}], "mark": {"type": "point", "shape": "M-1,0H1M0,-1V1", "size": 64, "strokeWidth": 1.4, "filled": false, "opacity": 1},
           "encoding": {"x": {"field": "t", "type": "quantitative", "title": "Time (years)"}, "y": {"field": "s", "type": "quantitative", "title": "OS"}, "color": {"field": "g", "type": "nominal"}}}
        ]},
        {"width": 235, "height": 26, "data": {"name": "risk"}, "transform": [{"filter": "datum.p == 'E'"}], "mark": {"type": "text", "fontSize": 12, "color": "#000000"},
         "encoding": {"x": {"field": "c", "type": "ordinal", "scale": {"type": "point", "padding": 0}, "axis": null},
           "y": {"field": "g", "type": "nominal", "scale": {"domain": ["TIL-poor", "TIL-rich"], "padding": 0.5}, "axis": {"title": null, "domain": false, "ticks": false, "labelPadding": 35, "labelFontSize": 13, "labelColor": {"condition": {"test": "datum.value == 'TIL-poor'", "value": "#2E3D7D"}, "value": "#F25F4C"}}},
           "text": {"field": "n", "type": "quantitative"}}}
      ]},
      {"title": {"text": "F", "anchor": "start", "frame": "bounds", "fontSize": 16, "fontWeight": "bold", "offset": 0, "dy": 20}, "spacing": 22, "vconcat": [
        {"title": "Chemotherapy (n=143, p=0.92)", "width": 235, "height": 130, "layer": [
          {"data": {"name": "km"}, "transform": [{"filter": "datum.p == 'F'"}], "mark": {"type": "area", "interpolate": "step-after", "opacity": 0.32},
           "encoding": {"x": {"field": "t", "type": "quantitative", "title": "Time (years)", "scale": {"domain": [0, 12.9], "nice": false, "zero": false}, "axis": {"values": [0, 2.5, 5, 7.5, 10, 12.5], "format": ".1f", "titlePadding": 3, "labelPadding": 2, "titleFontSize": 13, "labelFontSize": 10}},
             "y": {"field": "lo", "type": "quantitative", "title": "DSS", "scale": {"domain": [0, 1], "nice": false}, "axis": {"values": [0, 0.25, 0.5, 0.75, 1], "format": ".2f", "titleX": -92, "titleY": 65, "labelPadding": 2, "titleFontSize": 13, "labelFontSize": 10}},
             "y2": {"field": "hi"}, "color": {"field": "g", "type": "nominal"}}},
          {"data": {"name": "km"}, "transform": [{"filter": "datum.p == 'F'"}], "mark": {"type": "line", "interpolate": "step-after", "strokeWidth": 2},
           "encoding": {"x": {"field": "t", "type": "quantitative", "title": "Time (years)"}, "y": {"field": "s", "type": "quantitative", "title": "DSS"}, "color": {"field": "g", "type": "nominal"}}},
          {"data": {"name": "cens"}, "transform": [{"filter": "datum.p == 'F'"}], "mark": {"type": "point", "shape": "M-1,0H1M0,-1V1", "size": 64, "strokeWidth": 1.4, "filled": false, "opacity": 1},
           "encoding": {"x": {"field": "t", "type": "quantitative", "title": "Time (years)"}, "y": {"field": "s", "type": "quantitative", "title": "DSS"}, "color": {"field": "g", "type": "nominal"}}}
        ]},
        {"width": 235, "height": 26, "data": {"name": "risk"}, "transform": [{"filter": "datum.p == 'F'"}], "mark": {"type": "text", "fontSize": 12, "color": "#000000"},
         "encoding": {"x": {"field": "c", "type": "ordinal", "scale": {"type": "point", "padding": 0}, "axis": null},
           "y": {"field": "g", "type": "nominal", "scale": {"domain": ["TIL-poor", "TIL-rich"], "padding": 0.5}, "axis": {"title": null, "domain": false, "ticks": false, "labelPadding": 35, "labelFontSize": 13, "labelColor": {"condition": {"test": "datum.value == 'TIL-poor'", "value": "#2E3D7D"}, "value": "#F25F4C"}}},
           "text": {"field": "n", "type": "quantitative"}}}
      ]}
    ]},
    {"spacing": 10, "hconcat": [
      {"title": {"text": "G", "anchor": "start", "frame": "bounds", "fontSize": 16, "fontWeight": "bold", "offset": 0, "dy": 20}, "spacing": 22, "vconcat": [
        {"title": "No chemotherapy (n=97, p=0.03)", "width": 235, "height": 130, "layer": [
          {"data": {"name": "km"}, "transform": [{"filter": "datum.p == 'G'"}], "mark": {"type": "area", "interpolate": "step-after", "opacity": 0.32},
           "encoding": {"x": {"field": "t", "type": "quantitative", "title": "Time (years)", "scale": {"domain": [0, 12.9], "nice": false, "zero": false}, "axis": {"values": [0, 2.5, 5, 7.5, 10, 12.5], "format": ".1f", "titlePadding": 3, "labelPadding": 2, "titleFontSize": 13, "labelFontSize": 10}},
             "y": {"field": "lo", "type": "quantitative", "title": "DSS", "scale": {"domain": [0, 1], "nice": false}, "axis": {"values": [0, 0.25, 0.5, 0.75, 1], "format": ".2f", "titleX": -92, "titleY": 65, "labelPadding": 2, "titleFontSize": 13, "labelFontSize": 10}},
             "y2": {"field": "hi"}, "color": {"field": "g", "type": "nominal"}}},
          {"data": {"name": "km"}, "transform": [{"filter": "datum.p == 'G'"}], "mark": {"type": "line", "interpolate": "step-after", "strokeWidth": 2},
           "encoding": {"x": {"field": "t", "type": "quantitative", "title": "Time (years)"}, "y": {"field": "s", "type": "quantitative", "title": "DSS"}, "color": {"field": "g", "type": "nominal"}}},
          {"data": {"name": "cens"}, "transform": [{"filter": "datum.p == 'G'"}], "mark": {"type": "point", "shape": "M-1,0H1M0,-1V1", "size": 64, "strokeWidth": 1.4, "filled": false, "opacity": 1},
           "encoding": {"x": {"field": "t", "type": "quantitative", "title": "Time (years)"}, "y": {"field": "s", "type": "quantitative", "title": "DSS"}, "color": {"field": "g", "type": "nominal"}}}
        ]},
        {"width": 235, "height": 26, "data": {"name": "risk"}, "transform": [{"filter": "datum.p == 'G'"}], "mark": {"type": "text", "fontSize": 12, "color": "#000000"},
         "encoding": {"x": {"field": "c", "type": "ordinal", "scale": {"type": "point", "padding": 0}, "axis": null},
           "y": {"field": "g", "type": "nominal", "scale": {"domain": ["TIL-poor", "TIL-rich"], "padding": 0.5}, "axis": {"title": null, "domain": false, "ticks": false, "labelPadding": 35, "labelFontSize": 13, "labelColor": {"condition": {"test": "datum.value == 'TIL-poor'", "value": "#2E3D7D"}, "value": "#F25F4C"}}},
           "text": {"field": "n", "type": "quantitative"}}}
      ]},
      {"title": {"text": "H", "anchor": "start", "frame": "bounds", "fontSize": 16, "fontWeight": "bold", "offset": 0, "dx": -33, "dy": 15},
       "width": 200, "height": 181, "data": {"name": "ridge"},
       "mark": {"type": "line", "interpolate": "monotone", "color": "#000000", "strokeWidth": 1.3},
       "encoding": {
         "x": {"field": "x", "type": "quantitative", "scale": {"domain": [-0.4, 7.7], "nice": false, "zero": false}, "axis": {"values": [0, 2, 4, 6], "title": "log(Epithelial CD8+ TIL density)", "titlePadding": 3, "labelPadding": 2, "titleFontSize": 13, "labelFontSize": 10}},
         "y": {"field": "y", "type": "quantitative", "scale": {"domain": [-0.08, 4.976], "nice": false, "zero": false}, "axis": {"values": [-0.04, 0.96, 1.96, 2.96, 3.96, 4.96], "labelOffset": -11.5, "labelExpr": "datum.value < 0.5 ? 'Other' : datum.value < 1.5 ? 'Serous' : datum.value < 2.5 ? 'Mixed' : datum.value < 3.5 ? 'Endometrioid' : datum.value < 4.5 ? 'Clear cell' : 'Carcinosarcoma'", "domain": false, "ticks": false, "title": null, "labelFontSize": 13, "labelColor": "#000000", "labelPadding": 13}},
         "detail": {"field": "type", "type": "nominal"}
       }}
    ]}
  ]
}
